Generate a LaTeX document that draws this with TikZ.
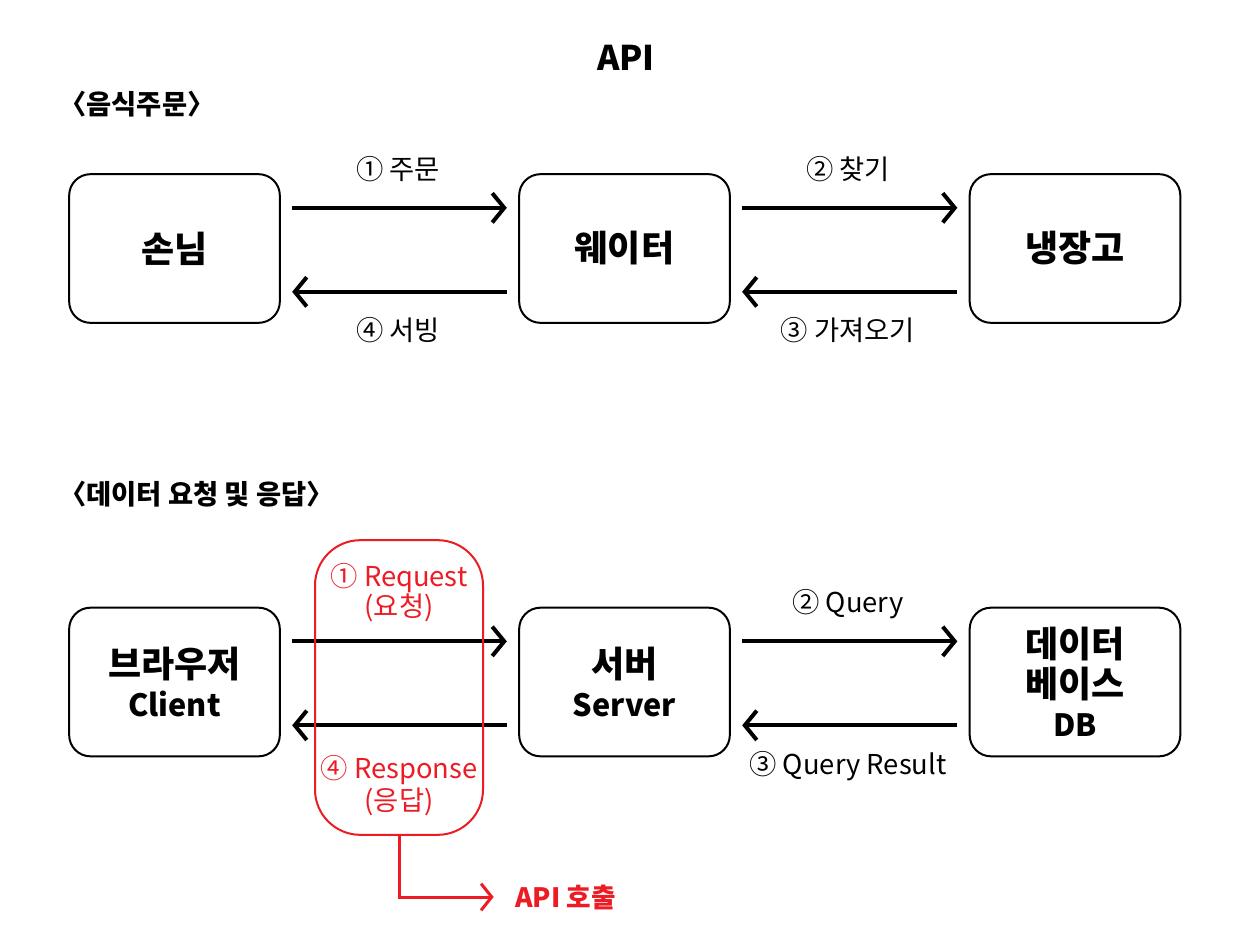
\documentclass[tikz,border=0pt]{standalone}
\usepackage{fontspec}
\setmainfont{Noto Sans CJK KR}
\usetikzlibrary{arrows.meta}
\definecolor{apired}{HTML}{ED1C24}
\newcommand{\latinpart}{\fontsize{23}{30}\selectfont}
\begin{document}
\begin{tikzpicture}[x=0.75pt,y=-0.75pt,
  box/.style={draw=black,line width=1.5pt,rounded corners=16pt,minimum width=158pt,minimum height=111.5pt,align=center,font=\fontsize{27}{29.5}\selectfont\bfseries,inner sep=0pt},
  flow/.style={line width=3pt,-{Straight Barb[length=9pt,width=22pt]},shorten >=8.5pt,shorten <=8.5pt},
  lbl/.style={font=\fontsize{20.5}{24}\selectfont,inner sep=0pt},
  sect/.style={font=\fontsize{20.5}{24}\selectfont\bfseries,inner sep=0pt,anchor=west},
  redlbl/.style={lbl,text=apired}]
\useasboundingbox (0,0) rectangle (1246,942);
\fill[white] (0,0) rectangle (1246,942);
% title and sections
\node[font=\fontsize{25.5}{30}\selectfont\bfseries,inner sep=0pt] (title) at (626,58) {API};
\node[sect] (sec1) at (59,104) {〈음식주문〉};
\node[sect] (sec2) at (59,494) {〈데이터 요청 및 응답〉};
% top row
\node[box] (guest) at (174.5,248.5) {손님};
\node[box] (waiter) at (624.5,248.5) {웨이터};
\node[box] (fridge) at (1075,248.5) {냉장고};
\draw[flow] ([yshift=30.5pt]guest.east) -- ([yshift=30.5pt]waiter.west);
\draw[flow] ([yshift=-32.5pt]waiter.west) -- ([yshift=-32.5pt]guest.east);
\draw[flow] ([yshift=30.5pt]waiter.east) -- ([yshift=30.5pt]fridge.west);
\draw[flow] ([yshift=-32.5pt]fridge.west) -- ([yshift=-32.5pt]waiter.east);
\node[lbl] (l1) at (398,169) {① 주문};
\node[lbl] (l4) at (398,330) {④ 서빙};
\node[lbl] (l2) at (848,169) {② 찾기};
\node[lbl] (l3) at (848,330) {③ 가져오기};
% bottom row
\node[box] (client) at (174.5,682) {브라우저\\{\latinpart Client}};
\node[box] (server) at (624.5,682) {서버\\{\latinpart Server}};
\node[box] (db) at (1075,682) {데이터\\베이스\\{\latinpart DB}};
\draw[flow] ([yshift=30.5pt]client.east) -- ([yshift=30.5pt]server.west);
\draw[flow] ([yshift=-32.5pt]server.west) -- ([yshift=-32.5pt]client.east);
\draw[flow] ([yshift=30.5pt]server.east) -- ([yshift=30.5pt]db.west);
\draw[flow] ([yshift=-32.5pt]db.west) -- ([yshift=-32.5pt]server.east);
\node[lbl] (q2) at (848,604) {② Query};
\node[lbl] (q3) at (848,766) {③ Query Result};
% API call highlight
\node[draw=apired,line width=1.5pt,rounded corners=34pt,minimum width=126pt,minimum height=221pt,inner sep=0pt] (api) at (399,687.5) {};
\node[redlbl] (r1) at (399,578) {① Request};
\node[redlbl] (r2) at (399,608) {(요청)};
\node[redlbl] (r4) at (399,770) {④ Response};
\node[redlbl] (r5) at (399,802) {(응답)};
\node[font=\fontsize{20}{24}\selectfont\bfseries,text=apired,inner sep=0pt,anchor=west] (call) at (515,897) {API 호출};
\coordinate (bend) at (399,897);
\draw[apired,line width=2.25pt,-{Straight Barb[length=8pt,width=20pt]},shorten >=16pt] (api.south) -- (bend) -- (call.west);
\end{tikzpicture}
\end{document}
